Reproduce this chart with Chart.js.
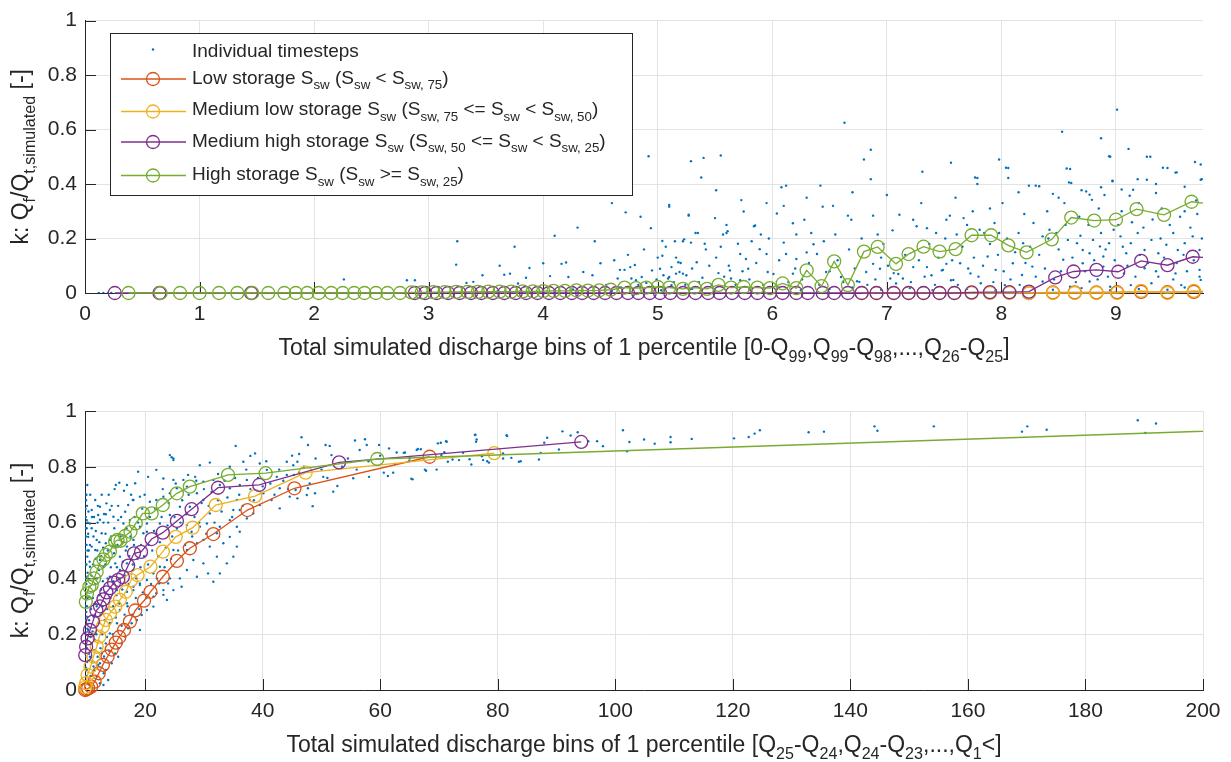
<!DOCTYPE html>
<html>
<head>
<meta charset="utf-8">
<script src="https://cdn.jsdelivr.net/npm/chart.js@4.4.1/dist/chart.umd.min.js"></script>
<style>
  body { margin: 0; background: #fff; }
  .panel { position: absolute; left: 0; width: 1231px; }
  #topBox { top: 0; height: 380px; }
  #botBox { top: 380px; height: 382px; }
</style>
</head>
<body>
<div class="panel" id="topBox"><canvas id="topChart"></canvas></div>
<div class="panel" id="botBox"><canvas id="botChart"></canvas></div>
<script>
// ---- top panel: bins 0-Q99 ... Q26-Q25 ----
const topLowX = [8.24, 8.45, 8.64, 8.83, 9.01, 9.22, 9.45, 9.68, 9.95];
const topLowY = [0, 0.002, 0.002, 0.002, 0.003, 0.004, 0.003, 0.004, 0.004];

const topMedLowX = [6.78, 6.91, 7.06, 7.19, 7.32, 7.46, 7.59, 7.74, 7.90, 8.07, 8.24, 8.45, 8.64, 8.83, 9.01, 9.22, 9.45, 9.68, 9.95];
const topMedLowY = [0, 0, 0, 0, 0, 0, 0, 0, 0, 0, 0, 0, 0, 0, 0, 0.008, 0, 0.008, 0.005];

const topMedHighX = [0.26, 0.65, 1.45, 2.88, 2.97, 3.07, 3.17, 3.27, 3.37, 3.46, 3.56, 3.66, 3.76, 3.85, 3.95, 4.05,
  4.15, 4.25, 4.34, 4.44, 4.54, 4.64, 4.74, 4.83, 4.93, 5.02, 5.11, 5.22, 5.33, 5.44, 5.54, 5.65, 5.76, 5.87, 5.98,
  6.09, 6.21, 6.31, 6.44, 6.54, 6.66, 6.78, 6.91, 7.06, 7.19, 7.32, 7.46, 7.59, 7.74, 7.90, 8.07, 8.24, 8.47, 8.63,
  8.83, 9.02, 9.22, 9.45, 9.67, 9.95];
const topMedHighY = [0, 0, 0, 0, 0, 0, 0, 0, 0, 0, 0, 0, 0, 0, 0, 0,
  0, 0, 0, 0, 0, 0, 0, 0, 0, 0, 0, 0, 0, 0, 0, 0, 0, 0, 0,
  0, 0, 0, 0, 0, 0, 0, 0, 0, 0, 0, 0, 0, 0.002, 0.003, 0.003, 0.005, 0.057, 0.079,
  0.085, 0.078, 0.118, 0.102, 0.133, 0.125];

const topHighX = [0.38, 0.66, 0.83, 1.00, 1.17, 1.33, 1.46, 1.60, 1.74, 1.84, 1.94, 2.04, 2.15, 2.25, 2.35, 2.44, 2.54,
  2.64, 2.75, 2.85, 2.94, 3.04, 3.14, 3.24, 3.34, 3.43, 3.52, 3.62, 3.72, 3.82, 3.91, 4.00, 4.09, 4.19, 4.29, 4.39,
  4.49, 4.59, 4.71, 4.81, 4.90, 5.00, 5.10, 5.22, 5.32, 5.43, 5.53, 5.64, 5.75, 5.87, 5.98, 6.09, 6.21, 6.30, 6.43,
  6.54, 6.66, 6.80, 6.92, 7.08, 7.19, 7.32, 7.46, 7.60, 7.74, 7.91, 8.06, 8.22, 8.44, 8.61, 8.81, 9.00, 9.18, 9.42,
  9.66, 9.95];
const topHighY = [0, 0, 0, 0, 0, 0, 0, 0, 0, 0, 0, 0, 0, 0, 0, 0, 0,
  0, 0, 0.002, 0.002, 0.003, 0.003, 0.004, 0.004, 0.004, 0.005, 0.005, 0.005, 0.006, 0.006, 0.007, 0.008, 0.008, 0.010, 0.009,
  0.010, 0.012, 0.020, 0.018, 0.020, 0.022, 0.020, 0.015, 0.020, 0.015, 0.030, 0.020, 0.022, 0.020, 0.018, 0.035, 0.018, 0.083, 0.025,
  0.116, 0.029, 0.152, 0.169, 0.107, 0.143, 0.170, 0.152, 0.161, 0.212, 0.212, 0.175, 0.149, 0.197, 0.277, 0.266, 0.269, 0.308, 0.287,
  0.335, 0.320];

const topDots = [
  [0.12, 0], [0.16, 0], [0.2, 0], [0.23, 0], [2.26, 0.05], [2.81, 0.047], [2.88, 0.047], [3.24, 0.104], [3.33, 0.037],
  [3.39, 0.041], [3.47, 0.065], [3.62, 0.1], [3.66, 0.067], [3.71, 0.071], [3.78, 0.035], [3.85, 0.056], [3.88, 0.092],
  [4.0, 0.109], [4.06, 0.062], [4.16, 0.107], [4.2, 0.112], [4.22, 0.059], [4.26, 0.013], [4.35, 0.077], [4.43, 0.065],
  [4.5, 0.109], [4.65, 0.053], [4.67, 0.085], [4.71, 0.085], [4.76, 0.095], [4.77, 0.053], [4.8, 0.103], [4.81, 0.047],
  [4.86, 0.059], [4.9, 0.037], [4.95, 0.083], [4.96, 0.023], [5.02, 0.089], [5.05, 0.065], [5.09, 0.053], [5.12, 0.095],
  [5.12, 0.029], [5.16, 0.071], [5.18, 0.113], [5.22, 0.071], [5.25, 0.065],
  [3.25, 0.19], [3.75, 0.17], [4.1, 0.21], [4.3, 0.24], [4.45, 0.19], [4.6, 0.33], [4.85, 0.28], [5.0, 0.13], [5.15, 0.19],
  [5.35, 0.22], [5.55, 0.17], [5.6, 0.25],
  [4.92, 0.502], [5.29, 0.484], [5.4, 0.496], [5.55, 0.505], [5.38, 0.424], [5.51, 0.377], [5.73, 0.341], [5.75, 0.299],
  [5.1, 0.323], [4.72, 0.296], [5.27, 0.287], [4.94, 0.238], [5.23, 0.197], [5.04, 0.191], [5.61, 0.227], [5.84, 0.245],
  [6.08, 0.388], [6.12, 0.394], [6.42, 0.394], [6.63, 0.625], [6.8, 0.49], [6.86, 0.526], [6.86, 0.418], [7.31, 0.445],
  [7.56, 0.478], [7.77, 0.424], [7.79, 0.4], [7.98, 0.49], [8.04, 0.46], [8.3, 0.394], [8.53, 0.592], [8.57, 0.457],
  [8.59, 0.406], [8.87, 0.568], [8.94, 0.502], [9.01, 0.673], [9.11, 0.529], [9.27, 0.5], [9.41, 0.46], [9.52, 0.442],
  [9.69, 0.481], [9.75, 0.418], [9.19, 0.418], [8.97, 0.412], [8.87, 0.388], [8.45, 0.364], [8.24, 0.394],
  [5.1, 0.317], [5.27, 0.284], [5.5, 0.275], [5.33, 0.22], [5.57, 0.215], [5.6, 0.22], [5.85, 0.248], [5.9, 0.215],
  [5.22, 0.19], [5.29, 0.185], [5.41, 0.181], [5.7, 0.181], [5.82, 0.19], [5.04, 0.137], [5.16, 0.13], [5.34, 0.113],
  [5.45, 0.1], [5.53, 0.073], [5.63, 0.083], [5.72, 0.143], [5.77, 0.125], [5.79, 0.089], [5.89, 0.161], [5.95, 0.143],
  [5.96, 0.077], [5.1, 0.059], [5.19, 0.077], [5.39, 0.056], [5.64, 0.053], [5.72, 0.047], [6.04, 0.292], [6.1, 0.32],
  [6.18, 0.256], [6.28, 0.269], [6.21, 0.215], [6.34, 0.22], [6.44, 0.317], [6.53, 0.32], [6.55, 0.215], [6.66, 0.284],
  [6.69, 0.269], [6.88, 0.284], [6.92, 0.215], [6.1, 0.185], [6.12, 0.143], [6.18, 0.071], [6.21, 0.125], [6.3, 0.149],
  [6.36, 0.179], [6.39, 0.143], [6.47, 0.077], [6.6, 0.059], [6.74, 0.043], [6.76, 0.041], [6.82, 0.077], [6.88, 0.107],
  [6.94, 0.089], [6.95, 0.13], [7.03, 0.053], [7.06, 0.073], [7.08, 0.035], [7.11, 0.287], [7.23, 0.269], [7.26, 0.245],
  [7.35, 0.238], [7.43, 0.22], [7.55, 0.284], [7.61, 0.215], [7.35, 0.095], [7.39, 0.065], [7.48, 0.083], [7.52, 0.107],
  [7.56, 0.047], [7.23, 0.095], [7.14, 0.053],
  [7.79, 0.422], [8.06, 0.459], [8.06, 0.422], [8.33, 0.392], [8.6, 0.455], [8.61, 0.404], [8.7, 0.377], [8.74, 0.373],
  [8.77, 0.361], [8.79, 0.342], [8.95, 0.5], [8.97, 0.41], [9.12, 0.357], [9.15, 0.379], [9.27, 0.416], [9.3, 0.5],
  [9.35, 0.367], [9.45, 0.459], [9.53, 0.443], [9.74, 0.472], [9.74, 0.416],
  [7.52, 0.269], [7.67, 0.275], [7.7, 0.25], [7.81, 0.232], [7.85, 0.22], [7.94, 0.257], [7.98, 0.22], [8.01, 0.33],
  [8.15, 0.22], [8.19, 0.183], [8.28, 0.257], [8.36, 0.208], [8.42, 0.232], [8.48, 0.22], [8.58, 0.195], [8.66, 0.183],
  [8.71, 0.158], [8.77, 0.146], [8.8, 0.195], [8.86, 0.171], [8.89, 0.134], [8.94, 0.183], [8.98, 0.232], [9.04, 0.208],
  [9.09, 0.146], [9.13, 0.183], [9.19, 0.22], [9.25, 0.158], [9.31, 0.195], [9.37, 0.146], [9.44, 0.177], [9.5, 0.22],
  [9.54, 0.158], [9.6, 0.183], [9.67, 0.208], [9.73, 0.158],
  [7.49, 0.085], [7.58, 0.048], [7.64, 0.109], [7.73, 0.072], [7.82, 0.036], [7.88, 0.134], [7.95, 0.085], [8.03, 0.029],
  [8.1, 0.109], [8.18, 0.066], [8.27, 0.097], [8.36, 0.042], [8.54, 0.122], [8.6, 0.023], [8.71, 0.109], [8.77, 0.042],
  [8.89, 0.097], [8.95, 0.023], [9.07, 0.072], [9.13, 0.029], [9.25, 0.091], [9.31, 0.036], [9.37, 0.06], [9.52, 0.072],
  [9.57, 0.029], [9.73, 0.085], [9.74, 0.048],
  [6.05, 0.02], [6.25, 0.01], [6.5, 0.015], [6.7, 0.02], [6.95, 0.012], [7.2, 0.018], [7.4, 0.01], [7.7, 0.015],
  [7.95, 0.01], [8.2, 0.02], [8.45, 0.012], [8.7, 0.018], [8.95, 0.01], [9.2, 0.015], [9.45, 0.012], [9.6, 0.02],
  [5.8, 0.012], [5.5, 0.01], [5.3, 0.015], [4.6, 0.008], [4.1, 0.01], [3.6, 0.006],
  [8.4, 0.3], [8.55, 0.33], [8.68, 0.28], [8.85, 0.31], [9.05, 0.3], [9.2, 0.33], [9.4, 0.31], [9.6, 0.3], [9.7, 0.34],
  [8.2, 0.29], [7.9, 0.31], [7.75, 0.3],
  [4.55, 0.03], [4.62, 0.12], [4.68, 0.02], [4.74, 0.14], [4.83, 0.03], [4.88, 0.16], [4.99, 0.05], [5.03, 0.01],
  [5.07, 0.17], [5.14, 0.04], [5.2, 0.11], [5.24, 0.03], [5.3, 0.09], [5.36, 0.04], [5.42, 0.16], [5.47, 0.03],
  [5.51, 0.13], [5.58, 0.06], [5.62, 0.1], [5.68, 0.03], [5.74, 0.08], [5.8, 0.05], [5.86, 0.11], [5.92, 0.03],
  [5.97, 0.2], [6.01, 0.07], [6.06, 0.12], [6.14, 0.04], [6.2, 0.09], [6.26, 0.05], [6.32, 0.11], [6.41, 0.03],
  [6.45, 0.19], [6.5, 0.08], [6.57, 0.12], [6.62, 0.04], [6.67, 0.16], [6.72, 0.09], [6.78, 0.2], [6.83, 0.03],
  [6.9, 0.05], [6.97, 0.18], [7.01, 0.1], [7.05, 0.23], [7.1, 0.07], [7.16, 0.14], [7.21, 0.04], [7.28, 0.12],
  [7.33, 0.06], [7.37, 0.18], [7.42, 0.03], [7.45, 0.13], [7.51, 0.2], [7.57, 0.12], [7.62, 0.03], [7.66, 0.17],
  [7.71, 0.09], [7.76, 0.13], [7.8, 0.06], [7.84, 0.1], [7.9, 0.18], [7.93, 0.04], [7.97, 0.14], [8.02, 0.08],
  [8.05, 0.2], [8.08, 0.05], [8.12, 0.15], [8.16, 0.03], [8.21, 0.11], [8.25, 0.17], [8.3, 0.06], [8.33, 0.14],
  [8.38, 0.09], [8.41, 0.2], [8.46, 0.05], [8.5, 0.16], [8.52, 0.08], [8.56, 0.25], [8.62, 0.13], [8.65, 0.04],
  [8.69, 0.21], [8.73, 0.08], [8.76, 0.25], [8.81, 0.12], [8.84, 0.05], [8.87, 0.22], [8.91, 0.16], [8.93, 0.06],
  [8.99, 0.12], [9.02, 0.25], [9.06, 0.17], [9.1, 0.1], [9.14, 0.26], [9.17, 0.06], [9.21, 0.14], [9.24, 0.24],
  [9.28, 0.11], [9.32, 0.27], [9.35, 0.08], [9.39, 0.2], [9.42, 0.13], [9.47, 0.25], [9.5, 0.05], [9.53, 0.11],
  [9.56, 0.28], [9.59, 0.14], [9.62, 0.08], [9.65, 0.24], [9.68, 0.12], [9.71, 0.29], [9.73, 0.06], [9.75, 0.2],
  [9.05, 0.38], [9.35, 0.4], [9.6, 0.39], [8.9, 0.36], [8.5, 0.35], [8.15, 0.37], [7.6, 0.35], [7.3, 0.33],
  [7.0, 0.36], [6.7, 0.37], [6.3, 0.35], [5.95, 0.33]
];

// ---- bottom panel: bins Q25-Q24 ... Q1< ----
const botLowX = [9.80, 10.0, 10.3, 10.8, 11.4, 12.1, 12.8, 13.6, 14.3, 15.0, 15.6, 16.4, 17.4, 18.3, 19.8, 20.9, 23.0, 25.4, 27.6, 31.6, 37.4, 45.4, 68.4];
const botLowY = [0.0, 0.003, 0.006, 0.012, 0.03, 0.06, 0.09, 0.12, 0.145, 0.17, 0.19, 0.215, 0.245, 0.285, 0.32, 0.352, 0.406, 0.463, 0.508, 0.559, 0.645, 0.723, 0.836];

const botMedLowX = [9.80, 9.95, 10.2, 10.7, 11.2, 11.75, 12.2, 12.8, 13.3, 14.0, 14.9, 15.7, 16.7, 17.6, 18.7, 20.9, 23.0, 25.2, 28.1, 32.0, 38.7, 47.3, 79.4];
const botMedLowY = [0.01, 0.025, 0.054, 0.084, 0.12, 0.155, 0.191, 0.227, 0.251, 0.275, 0.299, 0.323, 0.352, 0.394, 0.412, 0.442, 0.496, 0.549, 0.582, 0.663, 0.695, 0.779, 0.849];

const botMedHighX = [9.80, 9.95, 10.2, 10.6, 11.1, 11.7, 12.3, 12.9, 13.4, 14.0, 14.7, 15.4, 16.2, 17.1, 18.1, 19.3, 21.1, 23.0, 25.4, 27.9, 32.4, 39.4, 53.0, 94.2];
const botMedHighY = [0.125, 0.155, 0.185, 0.215, 0.245, 0.285, 0.300, 0.325, 0.350, 0.365, 0.385, 0.395, 0.405, 0.446, 0.490, 0.495, 0.541, 0.564, 0.606, 0.648, 0.725, 0.735, 0.816, 0.889];

const botHighX = [9.90, 10.1, 10.5, 10.9, 11.3, 11.75, 12.3, 12.9, 13.3, 14.0, 14.9, 15.3, 15.8, 16.6, 17.5, 18.4, 19.6, 21.1, 23.0, 25.4, 27.6, 34.1, 40.5, 59.5, 260];
const botHighY = [0.316, 0.346, 0.370, 0.376, 0.400, 0.424, 0.456, 0.468, 0.484, 0.496, 0.532, 0.538, 0.535, 0.552, 0.567, 0.597, 0.633, 0.633, 0.663, 0.705, 0.729, 0.771, 0.777, 0.828, 0.970];

const botDots = [
  [101.3, 0.931], [102.4, 0.889], [104.9, 0.898], [106.7, 0.883], [109.4, 0.907], [109.4, 0.888], [113, 0.9], [120.2, 0.902],
  [122.7, 0.907], [123.7, 0.919], [124.6, 0.931], [132.9, 0.924], [135.5, 0.926], [144.1, 0.945], [144.6, 0.929], [154.2, 0.945],
  [169.2, 0.926], [170.1, 0.945], [173.4, 0.933], [188.9, 0.967], [190.2, 0.921], [192, 0.955], [102, 0.856],
  [64, 0.85], [64.9, 0.82], [65.3, 0.757], [66.4, 0.864], [67.6, 0.79], [69.6, 0.79], [70.3, 0.886], [71.2, 0.892],
  [70.9, 0.852], [72.3, 0.826], [74.1, 0.85], [75.5, 0.808], [76.2, 0.915], [76.4, 0.898], [77.3, 0.838], [78.2, 0.82],
  [80.9, 0.848], [81.5, 0.913], [82.3, 0.832], [83.9, 0.82], [87, 0.826], [87.3, 0.85], [87.9, 0.886], [88.4, 0.904],
  [90.4, 0.862], [91, 0.927], [92.4, 0.912], [93.6, 0.924], [95.4, 0.892], [96.9, 0.892], [97.9, 0.874],
  [46.6, 0.906], [47.7, 0.878], [46.2, 0.846], [45.9, 0.818], [45.3, 0.771], [45.6, 0.717], [45.9, 0.687], [48.5, 0.659],
  [48.9, 0.705], [47.7, 0.723], [50.3, 0.764], [50.7, 0.878], [51.4, 0.875], [51.7, 0.842], [52, 0.711], [52.7, 0.731],
  [55.4, 0.759], [55.7, 0.894], [56.5, 0.86], [57.4, 0.899], [57.7, 0.878], [58.1, 0.764], [59.8, 0.878], [60.6, 0.779],
  [61.5, 0.866], [61.3, 0.767], [62.2, 0.779], [62.8, 0.851], [64.2, 0.851], [65.5, 0.755], [66.2, 0.86], [66.9, 0.863],
  [67.8, 0.786], [69.8, 0.884], [70.4, 0.842], [71.3, 0.89], [71.5, 0.818], [73.4, 0.824], [75.2, 0.827], [76.1, 0.914],
  [76.3, 0.89], [77.5, 0.824], [78.5, 0.815], [80.9, 0.83], [81.6, 0.91], [83.6, 0.818],
  [24.5, 0.834], [24.8, 0.824], [35.4, 0.875], [37.9, 0.839], [38.7, 0.848], [29.3, 0.806], [31, 0.815], [32.4, 0.774],
  [34.4, 0.8], [36.7, 0.818], [39.5, 0.812], [40.7, 0.789], [42.4, 0.764], [44.1, 0.818], [45.2, 0.806], [44.1, 0.771],
  [47.5, 0.699], [42.9, 0.723], [44.6, 0.693], [41.5, 0.681], [42.9, 0.651], [39.5, 0.663], [37.3, 0.615], [35.6, 0.585],
  [36.1, 0.567], [34.4, 0.549], [32.2, 0.562], [33.3, 0.526], [31, 0.514], [29.9, 0.538], [32.2, 0.478], [29.9, 0.454],
  [28.2, 0.466], [27.1, 0.43], [28.8, 0.406], [25.9, 0.4], [26.2, 0.37], [24.8, 0.358], [23.1, 0.341], [21.4, 0.334],
  [23.9, 0.382], [29.9, 0.681], [27.6, 0.657], [28.8, 0.705], [27.1, 0.729], [26.5, 0.753], [27.3, 0.771], [28.5, 0.764],
  [29.9, 0.747], [31.6, 0.753], [32.7, 0.735], [34.4, 0.723], [36.1, 0.735], [25.4, 0.723], [24.2, 0.705], [23.1, 0.693],
  [21.9, 0.681], [20.8, 0.675], [19.1, 0.693], [18, 0.681], [16.9, 0.735], [18.8, 0.782], [21.9, 0.789], [20.5, 0.764],
  [24.8, 0.753], [23.1, 0.758], [18.3, 0.741], [16.6, 0.639], [17.4, 0.609], [19.1, 0.585], [20.3, 0.567], [21.9, 0.562],
  [22.5, 0.597], [24.2, 0.627], [25.9, 0.657], [25.4, 0.579], [27.1, 0.591], [27.9, 0.567], [28.8, 0.526], [27.1, 0.502],
  [24.8, 0.502], [23.7, 0.466], [22.5, 0.442], [21.4, 0.418], [20.3, 0.394], [19.1, 0.376], [18, 0.37], [16.9, 0.352],
  [30.7, 0.418], [31.6, 0.388], [32.7, 0.418], [33.9, 0.454], [35, 0.478], [35.6, 0.514], [32.7, 0.585], [34.4, 0.609],
  [36.1, 0.645], [37.8, 0.681], [38.4, 0.633], [40.1, 0.705], [37.3, 0.753], [35.6, 0.681], [35, 0.645], [30.5, 0.597],
  [29.3, 0.585], [31, 0.633],
  [15, 0.735], [15.6, 0.743], [16.4, 0.714], [10.05, 0.609], [10.6, 0.597], [10.9, 0.645], [11.5, 0.681], [12.3, 0.657],
  [12, 0.627], [13, 0.631], [13.4, 0.669], [14, 0.645], [14.6, 0.621], [15.4, 0.609], [16.3, 0.597], [17.1, 0.663],
  [17.9, 0.681], [10.3, 0.549], [10.9, 0.514], [10.15, 0.478], [10.6, 0.442], [10.15, 0.406], [10.5, 0.334], [11.5, 0.311],
  [11.2, 0.263], [10.05, 0.263], [10.3, 0.215], [10.9, 0.167], [10.6, 0.119], [10.05, 0.072], [11.2, 0.084], [11.75, 0.048],
  [12.3, 0.024], [12.9, 0.018], [13.7, 0.036], [13.3, 0.072], [14.3, 0.096], [14.9, 0.131], [15.4, 0.119], [16, 0.167],
  [16.6, 0.191], [17.1, 0.221], [17.7, 0.239], [18.6, 0.251], [19.1, 0.215], [19.4, 0.269], [20.3, 0.287], [21.4, 0.299],
  [21.9, 0.347], [23.1, 0.358], [23.7, 0.323], [22.4, 0.382], [24.2, 0.4], [19.1, 0.382], [18, 0.358], [16.9, 0.311],
  [15.7, 0.287], [15.2, 0.239], [14, 0.203], [13.3, 0.167], [12.6, 0.131], [12.3, 0.096], [11.9, 0.119], [11.3, 0.143],
  [15.2, 0.358], [14, 0.406], [12.9, 0.442], [12.3, 0.466], [11.5, 0.502], [11.75, 0.538], [12.6, 0.562], [13.3, 0.526],
  [14, 0.538], [14.9, 0.514], [15.7, 0.478], [16.9, 0.514], [18, 0.538], [19.7, 0.562], [20.3, 0.597], [16.9, 0.454],
  [18, 0.43], [15.7, 0.43], [14.9, 0.454], [24.2, 0.842], [24.8, 0.83], [10.15, 0.735],
  [9.9, 0.25], [9.85, 0.4], [9.9, 0.55], [9.85, 0.65], [10.0, 0.45], [10.1, 0.3], [10.2, 0.6], [10.4, 0.5], [10.0, 0.7],
  [9.9, 0.08], [10.1, 0.15],
  [9.8, 0.02], [9.82, 0.12], [9.85, 0.2], [9.83, 0.3], [9.88, 0.35], [9.86, 0.45], [9.84, 0.5], [9.87, 0.58], [9.9, 0.62],
  [9.95, 0.68], [9.92, 0.05], [9.95, 0.18], [9.97, 0.28], [10.0, 0.38], [10.02, 0.52], [10.05, 0.58], [10.1, 0.66],
  [10.12, 0.1], [10.15, 0.22], [10.18, 0.33], [10.2, 0.42], [10.25, 0.5], [10.3, 0.56], [10.35, 0.64], [10.4, 0.02],
  [10.42, 0.13], [10.45, 0.25], [10.5, 0.37], [10.55, 0.46], [10.6, 0.52], [10.65, 0.7], [10.7, 0.05], [10.72, 0.19],
  [10.8, 0.29], [10.85, 0.41], [10.9, 0.58], [10.95, 0.62],
  [11.0, 0.1], [11.05, 0.21], [11.1, 0.33], [11.15, 0.45], [11.2, 0.55], [11.3, 0.62], [11.35, 0.07], [11.4, 0.18],
  [11.45, 0.27], [11.5, 0.38], [11.55, 0.47], [11.6, 0.57], [11.7, 0.2], [11.75, 0.3], [11.8, 0.4], [11.85, 0.5],
  [11.9, 0.6], [11.95, 0.66], [12.0, 0.09], [12.05, 0.24], [12.1, 0.34], [12.15, 0.43], [12.2, 0.53], [12.3, 0.61],
  [12.4, 0.15], [12.45, 0.27], [12.5, 0.36], [12.55, 0.48], [12.6, 0.7], [12.7, 0.2], [12.75, 0.3], [12.8, 0.39],
  [12.85, 0.51], [12.9, 0.6], [12.95, 0.06],
  [13.0, 0.12], [13.1, 0.25], [13.15, 0.35], [13.2, 0.45], [13.25, 0.56], [13.3, 0.63], [13.5, 0.19], [13.55, 0.29],
  [13.6, 0.4], [13.65, 0.5], [13.7, 0.6], [13.8, 0.7], [13.9, 0.14], [14.0, 0.24], [14.1, 0.33], [14.15, 0.44],
  [14.2, 0.55], [14.3, 0.66], [14.5, 0.2], [14.55, 0.3], [14.6, 0.39], [14.7, 0.49], [14.75, 0.58], [14.8, 0.72],
  [15.0, 0.26], [15.1, 0.34], [15.2, 0.44], [15.3, 0.52], [15.4, 0.66], [15.5, 0.15], [15.6, 0.31], [15.7, 0.4],
  [15.8, 0.55], [15.9, 0.62],
  [16.0, 0.23], [16.1, 0.36], [16.2, 0.46], [16.3, 0.53], [16.5, 0.27], [16.6, 0.41], [16.7, 0.5], [16.8, 0.58],
  [17.0, 0.3], [17.2, 0.38], [17.3, 0.48], [17.5, 0.55], [17.6, 0.7], [17.8, 0.27], [17.9, 0.45], [18.1, 0.52],
  [18.2, 0.62], [18.4, 0.33], [18.5, 0.4], [18.7, 0.47], [18.8, 0.6], [19.0, 0.29], [19.2, 0.44], [19.3, 0.52],
  [19.5, 0.65], [19.6, 0.35], [19.8, 0.48], [19.9, 0.7],
  [20.2, 0.33], [20.5, 0.45], [20.6, 0.52], [20.8, 0.62], [21.0, 0.38], [21.2, 0.5], [21.5, 0.57], [21.7, 0.65],
  [22.0, 0.4], [22.2, 0.48], [22.5, 0.53], [22.8, 0.62], [23.0, 0.72], [23.3, 0.44], [23.5, 0.51], [23.8, 0.59],
  [24.0, 0.67], [24.4, 0.47], [24.6, 0.55], [25.0, 0.62], [25.2, 0.74], [25.6, 0.5], [26.0, 0.6], [26.3, 0.68],
  [26.8, 0.52], [27.0, 0.63], [27.4, 0.7], [28.0, 0.55], [28.4, 0.62], [28.7, 0.75], [29.2, 0.6], [29.6, 0.67],
  [30.0, 0.72], [30.4, 0.56], [30.8, 0.66],
  [31.3, 0.71], [31.8, 0.6], [32.4, 0.68], [33.0, 0.64], [33.5, 0.75], [34.0, 0.69], [34.8, 0.62], [35.3, 0.76],
  [36.0, 0.7], [36.6, 0.66], [37.2, 0.79], [37.9, 0.72], [38.5, 0.68], [39.2, 0.76], [40.0, 0.73], [40.6, 0.82],
  [41.3, 0.74], [42.0, 0.7], [42.8, 0.79], [43.5, 0.75], [44.3, 0.72], [45.0, 0.84], [46.2, 0.78], [47.0, 0.8],
  [48.0, 0.74], [49.0, 0.83], [50.0, 0.79], [51.0, 0.76], [53.5, 0.8], [54.5, 0.83], [56.0, 0.79], [58.0, 0.82],
  [60.0, 0.84], [62.5, 0.81], [65.0, 0.83]
];

const INK = '#262626';
const GRID = '#e3e3e3';
const FAMILY = '"Liberation Sans", Arial, Helvetica, sans-serif';
const C_DOT = '#0072BD', C_LOW = '#D95319', C_MLOW = '#EDB120', C_MHIGH = '#7E2F8E', C_HIGH = '#77AC30';

function pts(xs, ys) { return xs.map((x, i) => ({ x: x, y: ys[i] })); }
function dotPts(arr) { return arr.map(p => ({ x: p[0], y: p[1] })); }

function richWidth(ctx, parts, size) {
    let w = 0;
    for (const [t, sub] of parts) {
        ctx.font = (sub ? size * 0.7 : size) + 'px ' + FAMILY;
        w += ctx.measureText(t).width;
    }
    return w;
}

function drawRich(ctx, parts, x, y, size, center) {
    let cx = center ? x - richWidth(ctx, parts, size) / 2 : x;
    ctx.textAlign = 'left';
    ctx.textBaseline = 'alphabetic';
    ctx.fillStyle = INK;
    for (const [t, sub] of parts) {
        ctx.font = (sub ? size * 0.7 : size) + 'px ' + FAMILY;
        ctx.fillText(t, cx, sub ? y + size * 0.3 : y);
        cx += ctx.measureText(t).width;
    }
}

const yTitle = [['k: Q', 0], ['f', 1], ['/Q', 0], ['t,simulated', 1], [' [-]', 0]];
const topXTitle = [['Total simulated discharge bins of 1 percentile [0-Q', 0], ['99', 1], [',Q', 0], ['99', 1], ['-Q', 0], ['98', 1],
    [',...,Q', 0], ['26', 1], ['-Q', 0], ['25', 1], [']', 0]];
const botXTitle = [['Total simulated discharge bins of 1 percentile [Q', 0], ['25', 1], ['-Q', 0], ['24', 1], [',Q', 0], ['24', 1],
    ['-Q', 0], ['23', 1], [',...,Q', 0], ['1', 1], ['<]', 0]];

const legendItems = [
    { color: C_DOT, dot: true, text: [['Individual timesteps', 0]] },
    { color: C_LOW, text: [['Low storage S', 0], ['sw', 1], [' (S', 0], ['sw', 1], [' < S', 0], ['sw, 75', 1], [')', 0]] },
    { color: C_MLOW, text: [['Medium low storage S', 0], ['sw', 1], [' (S', 0], ['sw, 75', 1], [' <= S', 0], ['sw', 1], [' < S', 0], ['sw, 50', 1], [')', 0]] },
    { color: C_MHIGH, text: [['Medium high storage S', 0], ['sw', 1], [' (S', 0], ['sw, 50', 1], [' <= S', 0], ['sw', 1], [' < S', 0], ['sw, 25', 1], [')', 0]] },
    { color: C_HIGH, text: [['High storage S', 0], ['sw', 1], [' (S', 0], ['sw', 1], [' >= S', 0], ['sw, 25', 1], [')', 0]] }
];
const legendLineY = [49.5, 79, 111.5, 142, 175.5];
const legendBaseY = [57, 83.5, 115, 146.5, 180];

// inward ticks, axis titles with subscripts, legend
const decor = {
    id: 'decor',
    beforeDatasetsDraw(chart) {
        const ctx = chart.ctx, a = chart.chartArea;
        const xs = chart.scales.x, ys = chart.scales.y;
        ctx.save();
        ctx.strokeStyle = INK;
        ctx.lineWidth = 1;
        ctx.beginPath();
        xs.ticks.forEach(t => {
            const px = Math.round(xs.getPixelForValue(t.value)) + 0.5;
            ctx.moveTo(px, a.bottom);
            ctx.lineTo(px, a.bottom - 11);
        });
        ys.ticks.forEach(t => {
            const py = Math.round(ys.getPixelForValue(t.value)) + 0.5;
            ctx.moveTo(a.left, py);
            ctx.lineTo(a.left + 11, py);
        });
        ctx.stroke();
        ctx.restore();
    },
    afterDraw(chart, args, opts) {
        const ctx = chart.ctx, a = chart.chartArea;
        ctx.save();
        drawRich(ctx, opts.xTitle, (a.left + a.right) / 2, a.bottom + 62, 23, true);
        ctx.save();
        ctx.translate(28, (a.top + a.bottom) / 2);
        ctx.rotate(-Math.PI / 2);
        drawRich(ctx, yTitle, 0, 0, 23, true);
        ctx.restore();
        if (opts.legend) {
            ctx.fillStyle = '#fff';
            ctx.fillRect(110, 33, 522, 162);
            ctx.strokeStyle = INK;
            ctx.lineWidth = 1;
            ctx.strokeRect(110.5, 33.5, 522, 162);
            legendItems.forEach((it, i) => {
                const ly = legendLineY[i];
                if (it.dot) {
                    ctx.fillStyle = it.color;
                    ctx.beginPath();
                    ctx.arc(153, ly, 1.2, 0, Math.PI * 2);
                    ctx.fill();
                } else {
                    ctx.strokeStyle = it.color;
                    ctx.lineWidth = 1.3;
                    ctx.beginPath();
                    ctx.moveTo(121, ly);
                    ctx.lineTo(186, ly);
                    ctx.stroke();
                    ctx.beginPath();
                    ctx.arc(153, ly, 6.5, 0, Math.PI * 2);
                    ctx.stroke();
                }
                drawRich(ctx, it.text, 192, legendBaseY[i], 19, false);
            });
        }
        ctx.restore();
    }
};

function series(data, color, order) {
    return {
        data: data, showLine: true, borderColor: color, borderWidth: 1.3,
        pointRadius: 6.5, pointBorderWidth: 1.3, pointBorderColor: color,
        pointBackgroundColor: 'rgba(0,0,0,0)', order: order,
        clip: { left: 10, top: 10, right: 0, bottom: 10 }
    };
}

function dotSet(data) {
    return {
        data: data, showLine: false, pointRadius: 1.2, pointBorderWidth: 0,
        pointBackgroundColor: C_DOT, pointBorderColor: C_DOT, order: 5
    };
}

function makeOptions(xMin, xMax, xStep, padTop, xHeight, xTitle, legend) {
    const tickFont = { family: FAMILY, size: 21 };
    return {
        responsive: true,
        maintainAspectRatio: false,
        animation: false,
        events: [],
        layout: { padding: { top: padTop, right: 28, left: 0, bottom: 0 } },
        scales: {
            x: {
                type: 'linear', min: xMin, max: xMax,
                afterFit: function (s) { s.height = xHeight; },
                ticks: { stepSize: xStep, includeBounds: false, padding: 9, color: INK, font: tickFont, maxRotation: 0 },
                grid: { color: GRID, drawTicks: false },
                border: { color: INK, width: 1 }
            },
            y: {
                min: 0, max: 1,
                afterFit: function (s) { s.width = 85; },
                ticks: {
                    stepSize: 0.2, padding: 8, color: INK, font: tickFont,
                    callback: function (v) { return String(Math.round(v * 10) / 10); }
                },
                grid: { color: GRID, drawTicks: false },
                border: { color: INK, width: 1 }
            }
        },
        plugins: {
            legend: { display: false },
            tooltip: { enabled: false },
            decor: { xTitle: xTitle, legend: legend }
        }
    };
}

// top panel
new Chart(document.getElementById('topChart').getContext('2d'), {
    type: 'scatter',
    data: {
        datasets: [
            dotSet(dotPts(topDots)),
            series(pts(topLowX, topLowY), C_LOW, 4),
            series(pts(topMedLowX, topMedLowY), C_MLOW, 3),
            series(pts(topMedHighX, topMedHighY), C_MHIGH, 2),
            series(pts(topHighX, topHighY), C_HIGH, 1)
        ]
    },
    options: makeOptions(0, 9.76, 1, 15, 87, topXTitle, true),
    plugins: [decor]
});

// bottom panel
new Chart(document.getElementById('botChart').getContext('2d'), {
    type: 'scatter',
    data: {
        datasets: [
            dotSet(dotPts(botDots)),
            series(pts(botLowX, botLowY), C_LOW, 4),
            series(pts(botMedLowX, botMedLowY), C_MLOW, 3),
            series(pts(botMedHighX, botMedHighY), C_MHIGH, 2),
            series(pts(botHighX, botHighY), C_HIGH, 1)
        ]
    },
    options: makeOptions(9.76, 200, 20, 31, 72, botXTitle, false),
    plugins: [decor]
});
</script>
</body>
</html>
